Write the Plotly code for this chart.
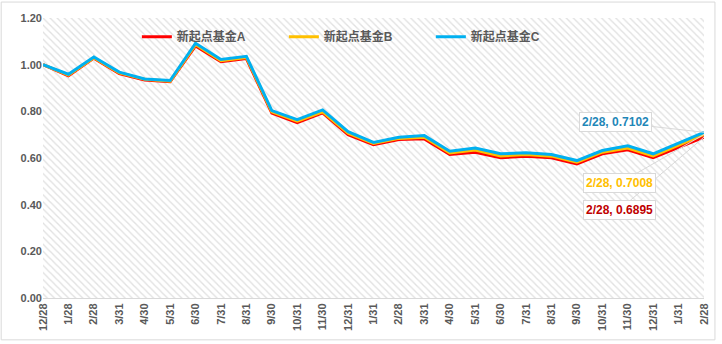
import plotly.graph_objects as go

categories = ["12/28", "1/28", "2/28", "3/31", "4/30", "5/31", "6/30", "7/31", "8/31",
              "9/30", "10/31", "11/30", "12/31", "1/31", "2/28", "3/31", "4/30", "5/31",
              "6/30", "7/31", "8/31", "9/30", "10/31", "11/30", "12/31", "1/31", "2/28"]

fund_a = [1.000, 0.952, 1.028, 0.962, 0.934, 0.927, 1.080, 1.013, 1.026, 0.793, 0.752, 0.793,
          0.700, 0.657, 0.679, 0.682, 0.615, 0.625, 0.601, 0.608, 0.601, 0.575, 0.618, 0.635,
          0.601, 0.646, 0.6895]
fund_b = [1.000, 0.955, 1.030, 0.965, 0.937, 0.929, 1.086, 1.017, 1.031, 0.798, 0.758, 0.798,
          0.706, 0.662, 0.684, 0.689, 0.622, 0.634, 0.609, 0.615, 0.608, 0.582, 0.625, 0.643,
          0.609, 0.654, 0.7008]
fund_c = [1.000, 0.959, 1.033, 0.968, 0.939, 0.932, 1.092, 1.022, 1.036, 0.803, 0.764, 0.806,
          0.713, 0.667, 0.689, 0.696, 0.629, 0.643, 0.618, 0.622, 0.615, 0.589, 0.632, 0.652,
          0.618, 0.663, 0.7102]

names = ["新起点基金A", "新起点基金B", "新起点基金C"]
colors = ["#ff0000", "#ffc000", "#00b0f0"]
label_colors = ["#c00000", "#ffc000", "#1f87b8"]
y_ticks = [0.0, 0.2, 0.4, 0.6, 0.8, 1.0, 1.2]

FONT = "Liberation Sans, Noto Sans CJK SC, sans-serif"
GRAY = "#595959"

xs = list(range(len(categories)))
n = len(categories) - 1

fig = go.Figure()

# hatched plot background
fig.add_trace(go.Scatter(
    x=[0, n, n, 0, 0], y=[0, 0, y_ticks[-1], y_ticks[-1], 0],
    mode="lines", line=dict(width=0, color="rgba(0,0,0,0)"),
    fill="toself", fillcolor="rgba(255,255,255,0)",
    fillpattern=dict(shape="\\", fgcolor="#c4c4c4", bgcolor="white", size=5, solidity=0.28),
    hoverinfo="skip", showlegend=False))

for name, vals, col in zip(names, [fund_a, fund_b, fund_c], colors):
    fig.add_trace(go.Scatter(x=xs, y=vals, mode="lines", name=name,
                             line=dict(color=col, width=3)))

offsets = [(-85, 73), (-85, 49), (-89, -10)]
for vals, col, (ax, ay) in zip([fund_a, fund_b, fund_c], label_colors, offsets):
    fig.add_annotation(x=n, y=vals[-1], text=f"{categories[-1]}, {vals[-1]:.4f}",
                       showarrow=True, arrowhead=0, arrowwidth=1, arrowcolor="#d9d9d9",
                       ax=ax, ay=ay, bgcolor="white", bordercolor="#d9d9d9", borderwidth=1,
                       borderpad=2,
                       font=dict(family=FONT, size=12, color=col, weight="bold"))

fig.add_shape(type="rect", xref="paper", yref="paper",
              x0=(1 - 43) / 664, x1=(718 - 43) / 664,
              y0=(298 - 340) / 281, y1=(298 - 1) / 281,
              line=dict(color="#d9d9d9", width=1), fillcolor="rgba(0,0,0,0)", layer="below")

fig.update_layout(
    width=722, height=344,
    margin=dict(l=43, r=15, t=17, b=46),
    paper_bgcolor="white", plot_bgcolor="white",
    font=dict(family=FONT, color=GRAY),
    legend=dict(orientation="h", x=0.142, y=0.985, xanchor="left", yanchor="top",
                bgcolor="rgba(0,0,0,0)", entrywidth=102, entrywidthmode="pixels",
                font=dict(family=FONT, size=12, color=GRAY, weight="bold")),
    xaxis=dict(range=[0, n], tickvals=xs, ticktext=categories, tickangle=-90,
               showgrid=False, zeroline=False, showline=True, linecolor="#d9d9d9",
               ticks="", tickfont=dict(family=FONT, size=11, color=GRAY, weight="bold")),
    yaxis=dict(range=[0, 1.2], tickvals=y_ticks, tickformat=".2f",
               showgrid=True, gridcolor="#e6e6e6", gridwidth=1, zeroline=False,
               showline=False, ticks="",
               tickfont=dict(family=FONT, size=11, color=GRAY, weight="bold")),
    showlegend=True,
)

fig.write_html("out.html")
